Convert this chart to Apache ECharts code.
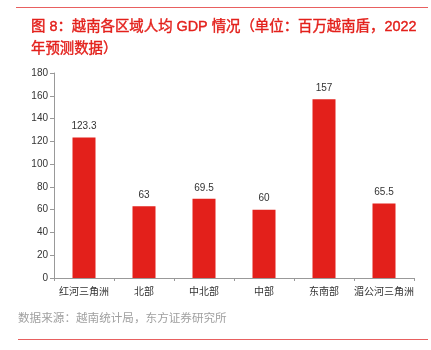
<!DOCTYPE html>
<html><head><meta charset="utf-8">
<script src="https://cdn.jsdelivr.net/npm/echarts@6/dist/echarts.min.js"></script>
<style>html,body{margin:0;padding:0;background:#fff}#c{width:431px;height:350px}</style>
</head><body><div id="c"></div>
<script>
const categories = ['红河三角洲','北部','中北部','中部','东南部','湄公河三角洲'];
const values = [123.3, 63, 69.5, 60, 157, 65.5];
const yTicks = [0,20,40,60,80,100,120,140,160,180];
const titleText = '图 8：越南各区域人均 GDP 情况（单位：百万越南盾，2022\n年预测数据）';
const sourceText = '数据来源：越南统计局，东方证券研究所';
const font = '"Liberation Sans", "Noto Sans CJK SC", sans-serif';

const chart = echarts.init(document.getElementById('c'));
chart.setOption({
  animation: false,
  textStyle: {fontFamily: font},
  title: {
    text: titleText, left: 26, top: 11,
    textStyle: {color: '#E3201B', fontSize: 14.4, fontWeight: 'normal', lineHeight: 22, fontFamily: font,
      textBorderColor: '#E3201B', textBorderWidth: 0.4}
  },
  graphic: [
    {type: 'line', shape: {x1: 16, y1: 7.5, x2: 428, y2: 7.5}, style: {stroke: '#E86060', lineWidth: 1}},
    {type: 'line', shape: {x1: 18, y1: 339.5, x2: 428, y2: 339.5}, style: {stroke: '#E86060', lineWidth: 1}},
    {type: 'text', left: 18, top: 313, style: {text: sourceText, fill: '#A0A0A0', fontSize: 11.6, fontFamily: font}}
  ],
  grid: {left: 54, right: 17, top: 73, bottom: 72, containLabel: false},
  xAxis: {
    type: 'category', data: categories,
    axisLine: {lineStyle: {color: '#999'}},
    axisTick: {show: true, length: 3, lineStyle: {color: '#999'}},
    axisLabel: {color: '#333', fontSize: 10, margin: 9, interval: 0}
  },
  yAxis: {
    type: 'value', min: yTicks[0], max: yTicks[yTicks.length-1], interval: 20,
    axisLine: {show: true, lineStyle: {color: '#999'}},
    axisTick: {show: true, length: 4, lineStyle: {color: '#999'}},
    splitLine: {show: false},
    axisLabel: {color: '#333', fontSize: 10, margin: 6}
  },
  series: [{
    type: 'bar', data: values, barWidth: 23,
    itemStyle: {color: '#E3201B'},
    label: {show: true, position: 'top', color: '#333', fontSize: 10, distance: 6}
  }]
});
</script></body></html>
